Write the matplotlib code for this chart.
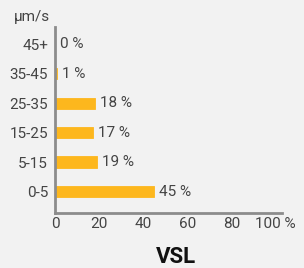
import matplotlib
matplotlib.use("Agg")
import matplotlib.pyplot as plt

categories = ["0-5", "5-15", "15-25", "25-35", "35-45", "45+"]
values = [45, 19, 17, 18, 1, 0]
x_ticks = [0, 20, 40, 60, 80, 100]
x_tick_labels = ["0", "20", "40", "60", "80", "100 %"]

plt.rcParams['font.family'] = ['Roboto', 'DejaVu Sans']

bg = '#f2f2f2'
bar_color = '#fdb71d'
spine_color = '#8c8c8c'
text_color = '#444444'

fig = plt.figure(figsize=(3.04, 2.68), dpi=100, facecolor=bg)
ax = fig.add_axes([0.181, 0.205, 0.747, 0.694], facecolor=bg)

ypos = list(range(len(categories)))
ax.barh(ypos, values, height=0.38, color=bar_color, edgecolor=bar_color, linewidth=0.6)

for y, v in zip(ypos, values):
    ax.text(v + 2.3, y, f"{v} %", va='center', ha='left', fontsize=11, color=text_color)

ax.set_xlim(0, 103)
ax.set_ylim(-0.73, 5.58)
ax.set_yticks(ypos)
ax.set_yticklabels(categories)
ax.set_xticks(x_ticks)
ax.set_xticklabels(x_tick_labels)
ax.tick_params(axis='both', length=0, labelsize=11, labelcolor=text_color)
ax.tick_params(axis='y', pad=5)
ax.tick_params(axis='x', pad=3)

for s in ['top', 'right']:
    ax.spines[s].set_visible(False)
for s in ['left', 'bottom']:
    ax.spines[s].set_color(spine_color)
    ax.spines[s].set_linewidth(2)

fig.text(50 / 304, 1 - 17 / 268, "µm/s", ha='right', va='center', fontsize=11, color=text_color)
fig.text(176 / 304, 1 - 257 / 268, "VSL", ha='center', va='center', fontsize=16,
         fontweight='bold', color='#111111')

fig.savefig("out.png", dpi=100, facecolor=bg)
